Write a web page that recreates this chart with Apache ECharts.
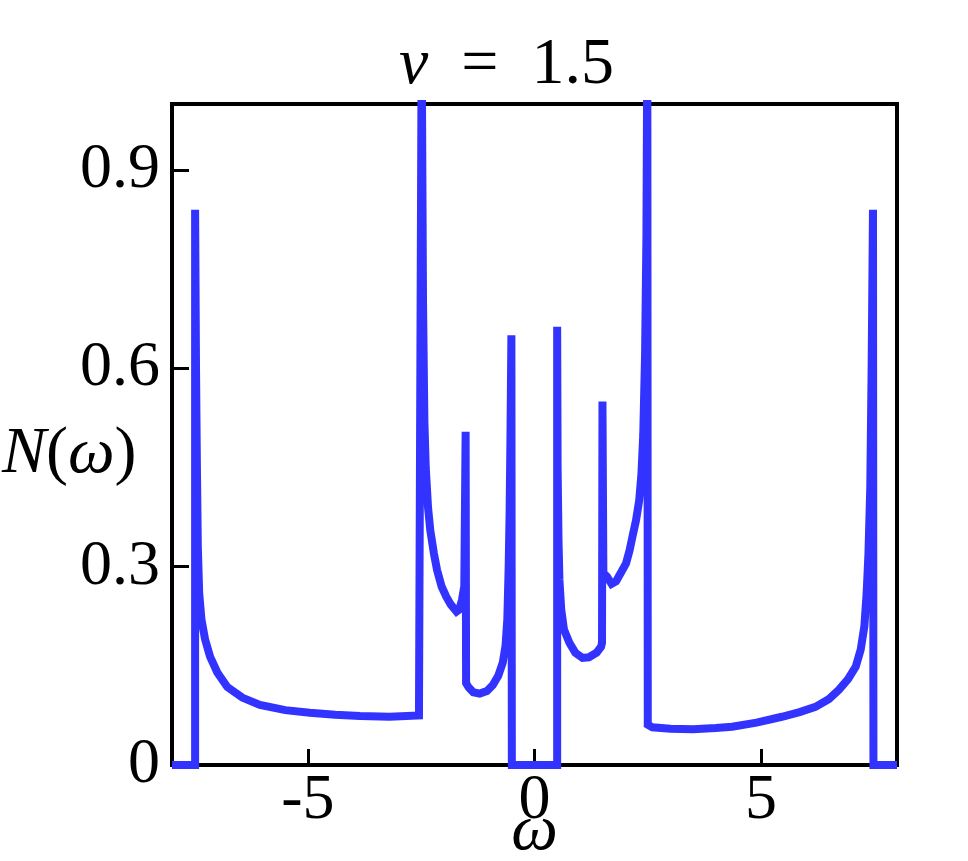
<!DOCTYPE html>
<html>
<head>
<meta charset="utf-8">
<script src="https://cdn.jsdelivr.net/npm/echarts@6/dist/echarts.min.js"></script>
<style>
  html, body { margin: 0; padding: 0; background: #fff; }
  #chart { width: 968px; height: 861px; }
</style>
</head>
<body>
<div id="chart"></div>
<script>
// frequency grid (omega) and density of states N(omega)
var omega = [
  -8, -7.49, -7.49, -7.47, -7.45, -7.43, -7.4, -7.35, -7.27, -7.16, -7.0, -6.78, -6.45, -6.06,
  -5.5, -4.96, -4.4, -3.85, -3.2, -2.55, -2.51,
  -2.49, -2.46, -2.43, -2.4, -2.35, -2.3, -2.22, -2.15, -2.05, -1.95, -1.85, -1.72, -1.66, -1.6, -1.55,
  -1.52, -1.51, -1.45, -1.35, -1.21, -1.05, -0.92, -0.8, -0.7, -0.64, -0.6, -0.57, -0.55, -0.53, -0.51,
  -0.5, 0.5,
  0.5, 0.51, 0.53, 0.55, 0.59, 0.65, 0.77, 0.9, 1.06, 1.2, 1.37, 1.47, 1.49,
  1.5, 1.52, 1.6, 1.7, 1.8, 1.9, 2.02, 2.1, 2.16, 2.24, 2.31, 2.36, 2.4, 2.44, 2.47, 2.49,
  2.5, 2.6, 3.0, 3.5, 4.0, 4.36, 4.9, 5.46, 5.85, 6.2, 6.5, 6.72, 6.92, 7.09, 7.2, 7.28, 7.33, 7.37,
  7.41, 7.44, 7.47, 7.48, 8
];
var dos = [
  0, 0, 0.84, 0.6, 0.45, 0.33, 0.26, 0.22, 0.19, 0.164, 0.14, 0.118, 0.102, 0.091,
  0.083, 0.079, 0.076, 0.074, 0.073, 0.075, 0.077,
  1.1, 0.7, 0.52, 0.45, 0.39, 0.355, 0.32, 0.295, 0.27, 0.255, 0.243, 0.232, 0.235, 0.25, 0.27,
  0.504, 0.124, 0.117, 0.11, 0.108, 0.112, 0.121, 0.135, 0.155, 0.18, 0.22, 0.3, 0.38, 0.5, 0.65,
  0, 0,
  0.663, 0.45, 0.34, 0.28, 0.235, 0.205, 0.185, 0.17, 0.162, 0.163, 0.17, 0.179, 0.185,
  0.55, 0.29, 0.285, 0.274, 0.278, 0.29, 0.305, 0.325, 0.345, 0.37, 0.4, 0.44, 0.5, 0.62, 0.8, 1.1,
  0.061, 0.057, 0.055, 0.054, 0.056, 0.058, 0.064, 0.073, 0.08, 0.088, 0.1, 0.114, 0.13, 0.149, 0.175, 0.21, 0.26, 0.32,
  0.42, 0.6, 0.84, 0, 0
];
var xTicks = [-5, 0, 5];
var yTicks = [0, 0.3, 0.6, 0.9];

var FONT = 'Liberation Serif';
var chart = echarts.init(document.getElementById('chart'));

var points = omega.map(function (w, i) { return [w, dos[i]]; });

var option = {
  animation: false,
  backgroundColor: '#fff',
  title: {
    text: '{it|v}\u2002=\u20021.5',
    left: 394,
    top: 28,
    textStyle: {
      fontFamily: FONT,
      fontSize: 66,
      fontWeight: 'normal',
      color: '#000',
      rich: {
        it: { fontFamily: FONT, fontSize: 66, fontStyle: 'italic', color: '#000' }
      }
    }
  },
  grid: {
    left: 172,
    right: 71,
    top: 104,
    bottom: 96,
    outerBoundsMode: 'none',
    containLabel: false,
    show: true,
    borderColor: '#000',
    borderWidth: 4,
    backgroundColor: 'transparent'
  },
  xAxis: {
    type: 'value',
    min: -8,
    max: 8,
    name: 'ω',
    nameLocation: 'middle',
    nameGap: 34,
    nameMoveOverlap: false,
    nameTextStyle: { fontFamily: FONT, fontSize: 66, fontStyle: 'italic', color: '#000' },
    axisLine: { show: true, onZero: false, lineStyle: { color: '#000', width: 4 } },
    axisTick: { show: true, inside: true, length: 16, lineStyle: { color: '#000', width: 3 }, customValues: xTicks },
    axisLabel: {
      customValues: xTicks,
      margin: 4,
      fontFamily: FONT,
      fontSize: 64,
      color: '#000'
    },
    splitLine: { show: false }
  },
  yAxis: {
    type: 'value',
    min: 0,
    max: 1,
    axisLine: { show: true, onZero: false, lineStyle: { color: '#000', width: 4 } },
    axisTick: { show: true, inside: true, length: 17, lineStyle: { color: '#000', width: 3 }, customValues: yTicks },
    axisLabel: {
      customValues: yTicks,
      margin: 12,
      fontFamily: FONT,
      fontSize: 64,
      color: '#000',
      formatter: function (v) { return v === 0 ? '0' : v.toFixed(1); }
    },
    splitLine: { show: false }
  },
  graphic: [{
    type: 'text',
    left: 2,
    top: 422,
    style: {
      text: '{it|N}({it|ω})',
      font: '66px "Liberation Serif"',
      fill: '#000',
      rich: {
        it: { fontFamily: FONT, fontSize: 66, fontStyle: 'italic', fill: '#000' }
      }
    }
  }],
  series: [{
    type: 'line',
    data: points,
    showSymbol: false,
    clip: true,
    lineStyle: { color: '#3333ff', width: 8, join: 'miter' },
    itemStyle: { color: '#3333ff' }
  }]
};

chart.setOption(option);
</script>
</body>
</html>
